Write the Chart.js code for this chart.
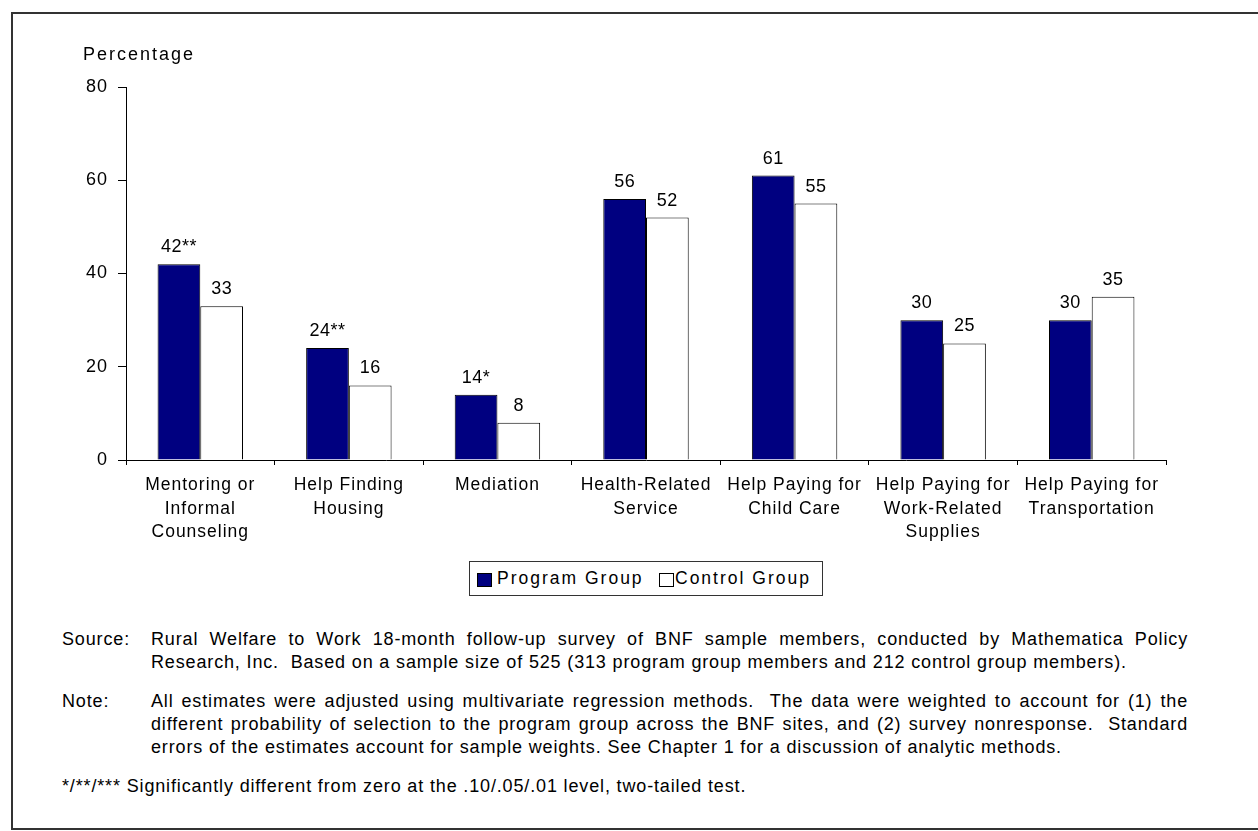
<!DOCTYPE html>
<html>
<head>
<meta charset="utf-8">
<script src="https://cdn.jsdelivr.net/npm/chart.js@4.4.1/dist/chart.umd.min.js"></script>
<style>
  body { margin: 0; background: #fff; font-family: "Liberation Sans", Arial, sans-serif; color: #000; }
  #wrap { position: relative; width: 1258px; height: 831px; overflow: hidden; }
  #frame { position: absolute; left: 11px; top: 12px; width: 1300px; height: 814px; border: 2px solid #333; border-right: none; }
  #chart { position: absolute; left: 0; top: 0; }
  #legend { position: absolute; left: 469px; top: 561px; width: 352px; height: 33px; border: 1px solid #333;
            font-size: 17.5px; letter-spacing: 2px; white-space: nowrap; }
  #legend .sw { position: absolute; top: 11px; width: 13px; height: 12px; border: 1px solid #000; }
  #legend .tx { position: absolute; top: 6px; }
  .note { position: absolute; left: 62px; font-size: 18px; line-height: 23px; letter-spacing: 0.85px; white-space: nowrap; }
  .note .lab { position: absolute; left: 0; top: 0; }
  .note .body { position: absolute; left: 89px; top: 0; width: 1037px; }
  .note .j { text-align: justify; text-align-last: justify; white-space: normal; }
</style>
</head>
<body>
<div id="wrap">
  <div id="frame"></div>
  <canvas id="chart" width="1258" height="560"></canvas>
  <div id="legend">
    <span class="sw" style="left:7px;background:#000080"></span><span class="tx" style="left:27px">Program Group</span>
    <span class="sw" style="left:189px;background:#fff"></span><span class="tx" style="left:205px">Control Group</span>
  </div>
  <div class="note" style="top:628px">
    <span class="lab">Source:</span>
    <div class="body">
      <div class="j">Rural Welfare to Work 18-month follow-up survey of BNF sample members, conducted by Mathematica Policy</div>
      <div>Research, Inc.&nbsp; Based on a sample size of 525 (313 program group members and 212 control group members).</div>
    </div>
  </div>
  <div class="note" style="top:690px">
    <span class="lab">Note:</span>
    <div class="body">
      <div class="j">All estimates were adjusted using multivariate regression methods.&nbsp; The data were weighted to account for (1) the</div>
      <div class="j">different probability of selection to the program group across the BNF sites, and (2) survey nonresponse.&nbsp; Standard</div>
      <div>errors of the estimates account for sample weights. See Chapter 1 for a discussion of analytic methods.</div>
    </div>
  </div>
  <div class="note" style="top:775px">*/**/*** Significantly different from zero at the .10/.05/.01 level, two-tailed test.</div>
</div>
<script>
const categories = [
  ['Mentoring or', 'Informal', 'Counseling'],
  ['Help Finding', 'Housing'],
  ['Mediation'],
  ['Health-Related', 'Service'],
  ['Help Paying for', 'Child Care'],
  ['Help Paying for', 'Work-Related', 'Supplies'],
  ['Help Paying for', 'Transportation']
];
const programValues = [42, 24, 14, 56, 61, 30, 30];
const controlValues = [33, 16, 8, 52, 55, 25, 35];
const programLabels = ['42**', '24**', '14*', '56', '61', '30', '30'];
const controlLabels = ['33', '16', '8', '52', '55', '25', '35'];
const yMax = 80;
const yStep = 20;

const FONT = '"Liberation Sans", Arial, sans-serif';

// canvas letter spacing, the original text is a bit wide
const spacing = {
  id: 'spacing',
  beforeUpdate(chart) { chart.ctx.letterSpacing = '1px'; },
  beforeDraw(chart) { chart.ctx.letterSpacing = '1px'; }
};

// value labels above bars + the "Percentage" heading
const valueLabels = {
  id: 'valueLabels',
  afterDatasetsDraw(chart) {
    const ctx = chart.ctx;
    const texts = [programLabels, controlLabels];
    ctx.save();
    ctx.font = '18px ' + FONT;
    ctx.fillStyle = '#000';
    ctx.textAlign = 'center';
    ctx.textBaseline = 'alphabetic';
    ctx.letterSpacing = '0.5px';
    chart.data.datasets.forEach((ds, i) => {
      chart.getDatasetMeta(i).data.forEach((bar, j) => {
        ctx.fillText(texts[i][j], bar.x, bar.y - 12);
      });
    });
    const area = chart.chartArea;
    ctx.textAlign = 'left';
    ctx.letterSpacing = '2px';
    ctx.fillText('Percentage', area.left - 43, area.top - 27);
    ctx.restore();
  }
};

new Chart(document.getElementById('chart'), {
  type: 'bar',
  data: {
    labels: categories,
    datasets: [
      { label: 'Program Group', data: programValues, backgroundColor: '#000080', borderColor: '#000', borderWidth: 1 },
      { label: 'Control Group', data: controlValues, backgroundColor: '#ffffff', borderColor: '#000', borderWidth: 1 }
    ]
  },
  options: {
    responsive: false,
    animation: false,
    layout: { padding: { top: 87, right: 92, left: 0, bottom: 0 } },
    categoryPercentage: 0.575,
    barPercentage: 1,
    plugins: { legend: { display: false }, tooltip: { enabled: false } },
    scales: {
      x: {
        grid: { drawOnChartArea: false, drawTicks: true, tickLength: 5, color: '#000' },
        border: { color: '#000', width: 1 },
        ticks: { color: '#000', padding: 9, maxRotation: 0, autoSkip: false,
                 font: { family: FONT, size: 17.5, lineHeight: 1.33 } },
        afterFit(scale) { scale.height = 100; }
      },
      y: {
        min: 0, max: yMax,
        grid: { drawOnChartArea: false, drawTicks: true, tickLength: 8, color: '#000' },
        border: { color: '#000', width: 1 },
        ticks: { stepSize: yStep, color: '#000', padding: 10, font: { family: FONT, size: 18 } },
        afterFit(scale) { scale.width = 126; }
      }
    }
  },
  plugins: [spacing, valueLabels]
});
</script>
</body>
</html>
